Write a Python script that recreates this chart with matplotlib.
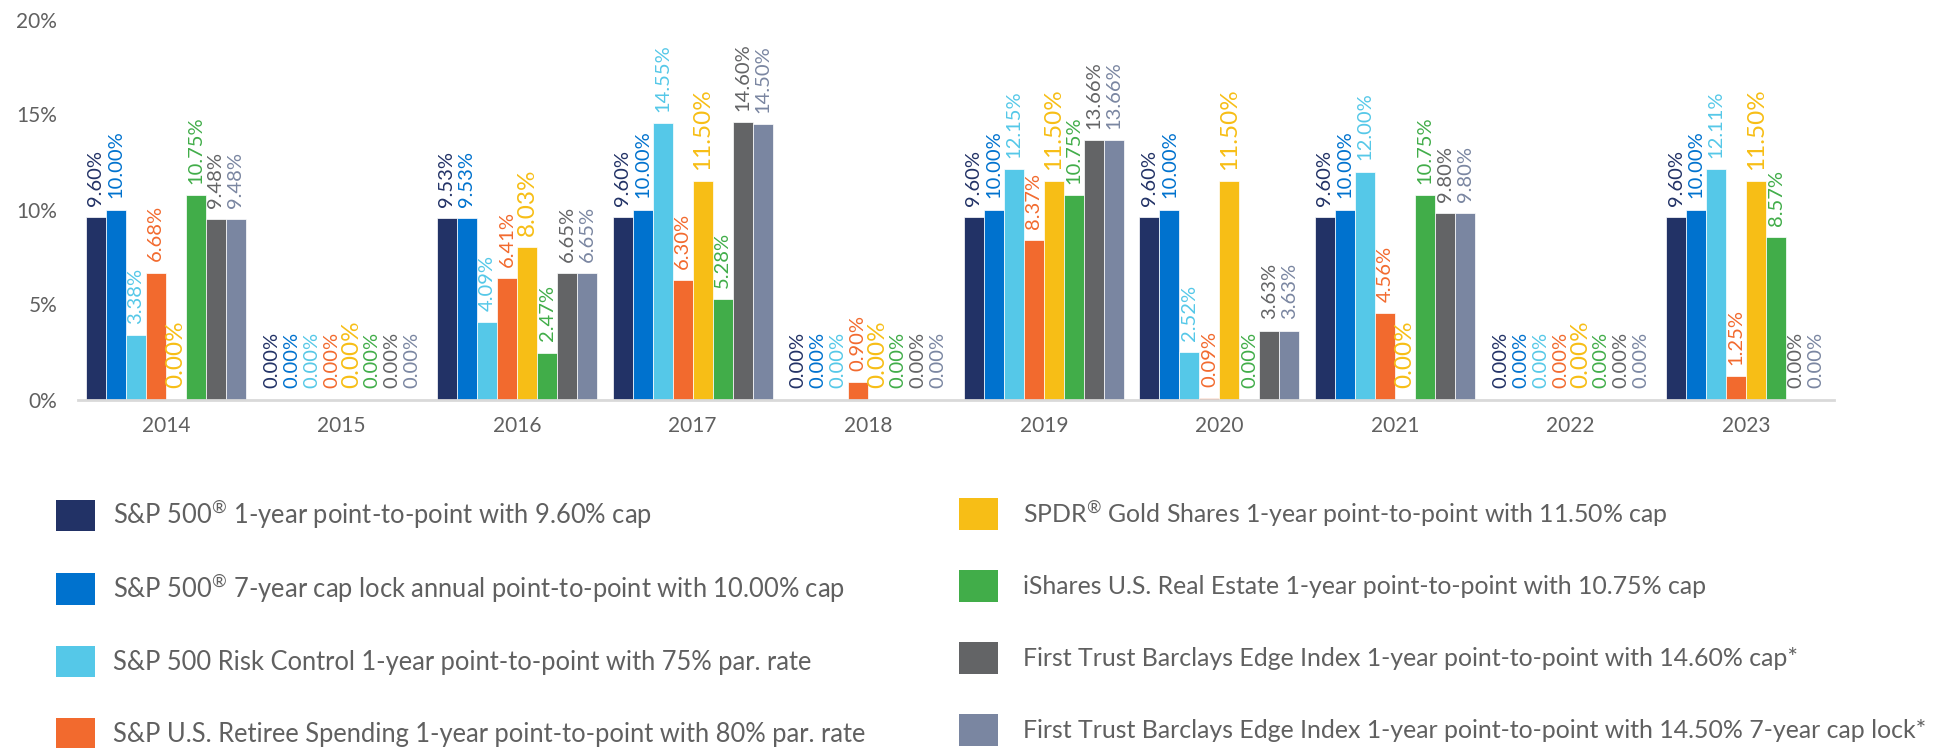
import matplotlib
matplotlib.use("Agg")
import matplotlib.pyplot as plt
from matplotlib.patches import Patch
import numpy as np

plt.rcParams["font.family"] = ["Lato", "DejaVu Sans"]
plt.rcParams["mathtext.fontset"] = "custom"
plt.rcParams["mathtext.rm"] = "Lato"
plt.rcParams["mathtext.default"] = "regular"

years = ["2014", "2015", "2016", "2017", "2018", "2019", "2020", "2021", "2022", "2023"]

reg = "$^{\u00ae}$"
series_names = [
    "S&P 500" + reg + " 1-year point-to-point with 9.60% cap",
    "S&P 500" + reg + " 7-year cap lock annual point-to-point with 10.00% cap",
    "S&P 500 Risk Control 1-year point-to-point with 75% par. rate",
    "S&P U.S. Retiree Spending 1-year point-to-point with 80% par. rate",
    "SPDR" + reg + " Gold Shares 1-year point-to-point with 11.50% cap",
    "iShares U.S. Real Estate 1-year point-to-point with 10.75% cap",
    "First Trust Barclays Edge Index 1-year point-to-point with 14.60% cap*",
    "First Trust Barclays Edge Index 1-year point-to-point with 14.50% 7-year cap lock*",
]

sp500_cap = [9.60, 0.00, 9.53, 9.60, 0.00, 9.60, 9.60, 9.60, 0.00, 9.60]
sp500_caplock = [10.00, 0.00, 9.53, 10.00, 0.00, 10.00, 10.00, 10.00, 0.00, 10.00]
risk_control = [3.38, 0.00, 4.09, 14.55, 0.00, 12.15, 2.52, 12.00, 0.00, 12.11]
retiree = [6.68, 0.00, 6.41, 6.30, 0.90, 8.37, 0.09, 4.56, 0.00, 1.25]
gold = [0.00, 0.00, 8.03, 11.50, 0.00, 11.50, 11.50, 0.00, 0.00, 11.50]
real_estate = [10.75, 0.00, 2.47, 5.28, 0.00, 10.75, 0.00, 10.75, 0.00, 8.57]
edge_cap = [9.48, 0.00, 6.65, 14.60, 0.00, 13.66, 3.63, 9.80, 0.00, 0.00]
edge_caplock = [9.48, 0.00, 6.65, 14.50, 0.00, 13.66, 3.63, 9.80, 0.00, 0.00]

all_series = [sp500_cap, sp500_caplock, risk_control, retiree,
              gold, real_estate, edge_cap, edge_caplock]

colors = ["#223266", "#0072ce", "#55c8e8", "#f26a2e",
          "#f7be16", "#41ad49", "#636466", "#7a86a1"]

text_gray = "#606060"

fig = plt.figure(figsize=(19.42, 7.48), dpi=100)
ax = fig.add_axes([78 / 1942, 1 - 399.5 / 748, (1834 - 78) / 1942, (399.5 - 19.5) / 748])

x = np.arange(len(years))
w = 0.1139

for i, (vals, col) in enumerate(zip(all_series, colors)):
    pos = x + (i - 3.5) * w
    ax.bar(pos, vals, width=w, color=col, edgecolor="white", linewidth=0.5)
    fs = 17.5 if i == 4 else 14.5
    for px, v in zip(pos, vals):
        ax.annotate(f"{v:.2f}%", (px, v), xytext=(0, 8), textcoords="offset points",
                    rotation=90, ha="center", va="bottom", color=col, fontsize=fs)

ax.set_xlim(-0.5, len(years) - 0.5)
ax.set_ylim(0, 20)
ax.set_yticks([0, 5, 10, 15, 20])
ax.set_yticklabels(["0%", "5%", "10%", "15%", "20%"])
ax.set_xticks(x)
ax.set_xticklabels(years)
ax.tick_params(axis="both", length=0, labelsize=15, labelcolor=text_gray)
ax.tick_params(axis="y", pad=15)
ax.tick_params(axis="x", pad=12)

for side in ["top", "right", "left"]:
    ax.spines[side].set_visible(False)
ax.spines["bottom"].set_color("#d9d9d9")
ax.spines["bottom"].set_linewidth(2)

# two legend columns placed separately
handles = [Patch(facecolor=c, edgecolor="none") for c in colors]
for k, (x0, fs, tpad) in enumerate([(56, 18.4, 0.71), (959, 17.9, 1.02)]):
    fig.legend(handles[4 * k:4 * k + 4], series_names[4 * k:4 * k + 4],
               loc="upper left", bbox_to_anchor=(x0 / 1942, 1 - 498 / 748),
               frameon=False, fontsize=fs, borderpad=0, borderaxespad=0,
               handlelength=28 / fs, handleheight=28 / fs,
               handletextpad=tpad, labelspacing=1.6 * 18.3 / fs, labelcolor=text_gray)

fig.savefig("out.png", dpi=100)
